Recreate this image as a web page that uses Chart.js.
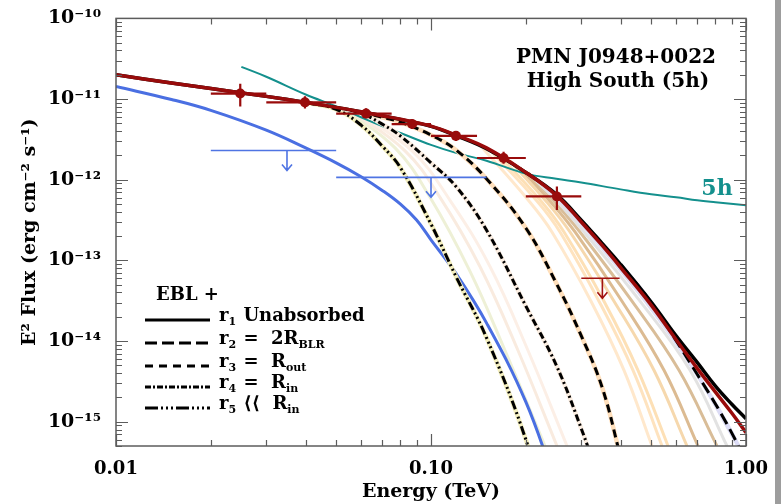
<!DOCTYPE html>
<html>
<head>
<meta charset="utf-8">
<script src="https://cdn.jsdelivr.net/npm/chart.js@4.4.1/dist/chart.umd.min.js"></script>
<style>
  html, body { margin: 0; padding: 0; background: #9d9d9d; }
  #wrap { width: 775px; height: 504px; background: #fff; }
</style>
</head>
<body>
<div id="wrap"><canvas id="sedChart" width="775" height="504"></canvas></div>
<script>
// axis ranges and tick labels
const xMin = 0.01, xMax = 1.0;
const yMin = 5e-16, yMax = 1e-10;
const xMajor = [0.01, 0.1, 1.0];
const xMajorLabels = ["0.01", "0.10", "1.00"];
const yMajorExp = [-15, -14, -13, -12, -11, -10];
const yMajorLabels = ["10⁻¹⁵", "10⁻¹⁴", "10⁻¹³", "10⁻¹²", "10⁻¹¹", "10⁻¹⁰"];

// model curves (energy in TeV, E^2 flux in erg cm^-2 s^-1)
const curveE = [0.01, 0.015, 0.02, 0.03, 0.04, 0.05, 0.06, 0.07, 0.08, 0.1, 0.12, 0.15, 0.2, 0.25, 0.3, 0.35, 0.4, 0.5, 0.6, 0.7, 0.8, 0.9, 1.0];
const fitF = [2.00e-11, 1.58e-11, 1.35e-11, 1.08e-11, 9.08e-12, 7.89e-12, 6.95e-12, 6.21e-12, 5.62e-12, 4.62e-12, 3.58e-12, 2.48e-12, 1.23e-12, 6.40e-13, 2.99e-13, 1.52e-13, 8.16e-14, 2.79e-14, 1.04e-14, 4.59e-15, 2.33e-15, 1.29e-15, 7.33e-16];
const r1F = [2.00e-11, 1.58e-11, 1.35e-11, 1.08e-11, 9.08e-12, 7.89e-12, 6.95e-12, 6.21e-12, 5.60e-12, 4.58e-12, 3.52e-12, 2.42e-12, 1.23e-12, 6.59e-13, 3.16e-13, 1.61e-13, 8.89e-14, 3.04e-14, 1.16e-14, 5.43e-15, 2.76e-15, 1.66e-15, 1.09e-15];

const r2E = [0.4, 0.5, 0.6, 0.7, 0.8, 0.9, 1.0];
const r2F = [8.89e-14, 3.00e-14, 1.01e-14, 3.87e-15, 1.66e-15, 7.33e-16, 3.24e-16];
const r3E = [0.06, 0.07, 0.08, 0.1, 0.12, 0.15, 0.2, 0.25, 0.3, 0.35, 0.4];
const r3F = [6.95e-12, 5.95e-12, 5.17e-12, 3.58e-12, 2.34e-12, 1.03e-12, 2.52e-13, 5.20e-14, 1.16e-14, 2.61e-15, 3.62e-16];
const r4E = [0.05, 0.06, 0.07, 0.08, 0.1, 0.12, 0.15, 0.2, 0.25, 0.3, 0.35];
const r4F = [7.89e-12, 6.67e-12, 4.89e-12, 3.48e-12, 1.62e-12, 8.26e-13, 2.38e-13, 2.72e-14, 5.00e-15, 8.20e-16, 1.47e-16];
const r5E = [0.04, 0.05, 0.06, 0.07, 0.08, 0.1, 0.12, 0.15, 0.2, 0.25];
const r5F = [9.08e-12, 7.46e-12, 4.75e-12, 2.62e-12, 1.41e-12, 2.82e-13, 6.33e-14, 1.10e-14, 6.02e-16, 3.0e-17];

const blueE = [0.01, 0.015, 0.02, 0.03, 0.04, 0.05, 0.06, 0.07, 0.08, 0.09, 0.1, 0.12, 0.15, 0.2, 0.25];
const blueF = [1.43e-11, 9.89e-12, 7.25e-12, 4.12e-12, 2.48e-12, 1.62e-12, 1.09e-12, 7.37e-13, 4.97e-13, 3.16e-13, 1.80e-13, 6.89e-14, 1.68e-14, 1.76e-15, 1.60e-16];

// 5h sensitivity
const sensE = [0.025, 0.03, 0.04, 0.05, 0.06, 0.07, 0.08, 0.1, 0.12, 0.15, 0.2, 0.25, 0.3, 0.4, 0.5, 0.6, 0.7, 0.8, 1.0];
const sensF = [2.51e-11, 1.89e-11, 1.14e-11, 8.11e-12, 5.95e-12, 4.62e-12, 3.79e-12, 2.70e-12, 2.15e-12, 1.72e-12, 1.19e-12, 1.03e-12, 9.24e-13, 7.59e-13, 6.59e-13, 6.05e-13, 5.56e-13, 5.26e-13, 4.83e-13];

// faint intermediate radii
const fanA1E = [0.0533, 0.0769, 0.0993, 0.133, 0.1718, 0.2301];
const fanA1F = [7.46e-12, 2.48e-12, 6.05e-13, 7.29e-14, 7.63e-15, 5.0e-16];
const fanA2E = [0.0553, 0.0827, 0.1068, 0.143, 0.1889, 0.2512];
const fanA2F = [7.25e-12, 2.28e-12, 6.05e-13, 8.39e-14, 7.63e-15, 5.0e-16];
const fanA3E = [0.0574, 0.0871, 0.1149, 0.1539, 0.2032, 0.2703];
const fanA3F = [7.05e-12, 2.28e-12, 5.56e-13, 8.39e-14, 7.63e-15, 5.0e-16];
const fanLowF = [5.26e-13, 2.25e-13, 3.12e-14, 4.34e-15, 5.0e-16];
const fanC1E = [0.1430, 0.2062, 0.2421, 0.3221, 0.4100, 0.5030];
const fanC2E = [0.1539, 0.2186, 0.2568, 0.3414, 0.4379, 0.5413];
const fanC3E = [0.1632, 0.2251, 0.2644, 0.3541, 0.4541, 0.5656];
const fanC4E = [0.1781, 0.2335, 0.2763, 0.3811, 0.5104, 0.6497];
const fanC5E = [0.1917, 0.2404, 0.2866, 0.4040, 0.5493, 0.7040];
const fanC6E = [0.2032, 0.2476, 0.2972, 0.4346, 0.6128, 0.8088];
const fanC7E = [0.2139, 0.2530, 0.3060, 0.4609, 0.6643, 0.8704];
const fanC8E = [0.2301, 0.2587, 0.3151, 0.4780, 0.6839, 0.9432];
const fanCStartF = [2.70e-12, 2.34e-12, 2.09e-12, 1.72e-12, 1.41e-12, 1.23e-12, 1.00e-12, 8.02e-13];

// measured spectrum
const ptE = [0.0248, 0.0398, 0.0622, 0.0871, 0.120, 0.170, 0.251];
const ptF = [1.17e-11, 9.1e-12, 6.6e-12, 4.9e-12, 3.5e-12, 1.86e-12, 6.2e-13];
const ptELo = [0.02, 0.03, 0.05, 0.075, 0.1, 0.14, 0.2];
const ptEHi = [0.03, 0.05, 0.075, 0.1, 0.14, 0.2, 0.3];
const ptFLo = [8.1e-12, 7.66e-12, 5.78e-12, 4.24e-12, 3.02e-12, 1.58e-12, 4.2e-13];
const ptFHi = [1.55e-11, 1.08e-11, 7.67e-12, 5.62e-12, 4.01e-12, 2.22e-12, 8.26e-13];

// upper limits
const ulE = [0.0349, 0.1, 0.35];
const ulF = [2.3e-12, 1.07e-12, 6.0e-14];
const ulELo = [0.02, 0.05, 0.3];
const ulEHi = [0.05, 0.15, 0.397];
const ulColor = ["#4f74e3", "#4f74e3", "#a01212"];

const RED = "#990b0b";
const FONT = '"DejaVu Serif", "Liberation Serif", serif';

function pts(es, fs) {
  return es.map((e, i) => ({ x: e, y: fs[i] }));
}
function fanC(es, i) {
  return pts(es, [fanCStartF[i]].concat(fanLowF));
}
function line(data, color, width, dash) {
  return {
    data: data, borderColor: color, borderWidth: width, borderDash: dash || [],
    pointRadius: 0, fill: false, clip: 0, tension: 0.4
  };
}
function isDecade(v) {
  const l = Math.log10(v);
  return Math.abs(l - Math.round(l)) < 1e-6;
}

const datasets = [
  line(pts(curveE, fitF), RED, 3.5),
  line(pts(curveE, r1F), "#000", 3.5),
  line(pts(r2E, r2F), "#000", 3, [12, 6]),
  line(pts(r3E, r3F), "#000", 3, [8, 5]),
  line(pts(r4E, r4F), "#000", 3, [7, 3, 2, 3]),
  line(pts(r5E, r5F), "#000", 3, [9, 3, 2, 3, 2, 3, 2, 3]),
  line(pts(r2E, r2F), "#dcdcf6", 4),
  line(pts(r3E, r3F), "#ffdfbb", 4.5),
  line(pts(r4E, r4F), "#fbeee2", 4.5),
  line(pts(r5E, r5F), "#f4efbf", 4.5),
  line(pts(sensE, sensF), "#14908d", 2),
  line(pts(blueE, blueF), "#4a6fe2", 3),
  line(fanC(fanC8E, 7), "#dedef3", 3),
  line(fanC(fanC7E, 6), "#e2e2e2", 3),
  line(fanC(fanC6E, 5), "#d9bd98", 3),
  line(fanC(fanC5E, 4), "#dcbb92", 3),
  line(fanC(fanC4E, 3), "#f6d8ad", 3),
  line(fanC(fanC3E, 2), "#fde0b6", 3),
  line(fanC(fanC2E, 1), "#fee3bf", 3),
  line(fanC(fanC1E, 0), "#ffe8cc", 3),
  line(pts(fanA3E, fanA3F), "#fcefe6", 3),
  line(pts(fanA2E, fanA2F), "#f9ebdf", 3),
  line(pts(fanA1E, fanA1F), "#eef0d6", 3)
];

// legend rows: [text, subscript] pieces
const legendRows = [
  { dash: [], parts: [["r", 0], ["1", 1], [" Unabsorbed", 0]] },
  { dash: [12, 5], parts: [["r", 0], ["2", 1], [" =  2R", 0], ["BLR", 1]] },
  { dash: [8, 6], parts: [["r", 0], ["3", 1], [" =  R", 0], ["out", 1]] },
  { dash: [6, 2, 2, 2], parts: [["r", 0], ["4", 1], [" =  R", 0], ["in", 1]] },
  { dash: [13, 3, 2, 3, 2, 3, 2, 3], parts: [["r", 0], ["5", 1], [" ⟨⟨  R", 0], ["in", 1]] }
];
const legendY = [320, 343, 366, 387, 408];

const overlay = {
  id: "overlay",
  afterDatasetsDraw(chart) {
    const ctx = chart.ctx, xs = chart.scales.x, ys = chart.scales.y;
    ctx.save();
    // upper limits
    ulE.forEach((e, i) => {
      const px = xs.getPixelForValue(e), py = ys.getPixelForValue(ulF[i]);
      ctx.strokeStyle = ulColor[i];
      ctx.lineWidth = 1.6;
      ctx.beginPath();
      ctx.moveTo(xs.getPixelForValue(ulELo[i]), py);
      ctx.lineTo(xs.getPixelForValue(ulEHi[i]), py);
      ctx.moveTo(px, py);
      ctx.lineTo(px, py + 20);
      ctx.moveTo(px - 5, py + 14);
      ctx.lineTo(px, py + 20);
      ctx.lineTo(px + 5, py + 14);
      ctx.stroke();
    });
    // data points with error bars
    ctx.strokeStyle = RED;
    ctx.fillStyle = RED;
    ctx.lineWidth = 2.2;
    ptE.forEach((e, i) => {
      const px = xs.getPixelForValue(e), py = ys.getPixelForValue(ptF[i]);
      ctx.beginPath();
      ctx.moveTo(xs.getPixelForValue(ptELo[i]), py);
      ctx.lineTo(xs.getPixelForValue(ptEHi[i]), py);
      ctx.moveTo(px, ys.getPixelForValue(ptFHi[i]));
      ctx.lineTo(px, ys.getPixelForValue(ptFLo[i]));
      ctx.stroke();
      ctx.beginPath();
      ctx.arc(px, py, 5, 0, Math.PI * 2);
      ctx.fill();
    });
    ctx.restore();
  },
  afterDraw(chart) {
    const ctx = chart.ctx, xs = chart.scales.x, ys = chart.scales.y;
    const a = chart.chartArea;
    ctx.save();
    // frame and inward ticks
    ctx.strokeStyle = "#5c5c5c";
    ctx.lineWidth = 1.5;
    ctx.strokeRect(a.left, a.top, a.right - a.left, a.bottom - a.top);
    ctx.lineWidth = 1.2;
    ctx.beginPath();
    for (let ex = -2; ex <= 0; ex++) {
      for (let k = 1; k <= 9; k++) {
        const v = k * Math.pow(10, ex);
        if (v < xMin * 0.999 || v > xMax * 1.001) continue;
        const p = Math.round(xs.getPixelForValue(v)) + 0.5;
        const len = k === 1 ? 12 : 6;
        ctx.moveTo(p, a.bottom); ctx.lineTo(p, a.bottom - len);
        ctx.moveTo(p, a.top); ctx.lineTo(p, a.top + len);
      }
    }
    for (let ex = -16; ex <= -10; ex++) {
      for (let k = 1; k <= 9; k++) {
        const v = k * Math.pow(10, ex);
        if (v < yMin * 0.999 || v > yMax * 1.001) continue;
        const p = Math.round(ys.getPixelForValue(v)) + 0.5;
        const len = k === 1 ? 12 : 6;
        ctx.moveTo(a.left, p); ctx.lineTo(a.left + len, p);
        ctx.moveTo(a.right, p); ctx.lineTo(a.right - len, p);
      }
    }
    ctx.stroke();

    // title block
    ctx.fillStyle = "#000";
    ctx.textAlign = "center";
    ctx.textBaseline = "alphabetic";
    ctx.font = "bold 20px " + FONT;
    ctx.fillText("PMN J0948+0022", 616, 63);
    ctx.fillText("High South (5h)", 618, 87);

    // 5h label
    ctx.fillStyle = "#14908d";
    ctx.font = "bold 22px " + FONT;
    ctx.fillText("5h", 717, 195);

    // legend
    ctx.fillStyle = "#000";
    ctx.textAlign = "left";
    ctx.font = "bold 18px " + FONT;
    ctx.fillText("EBL +", 156, 300);
    ctx.strokeStyle = "#000";
    ctx.lineWidth = 3;
    legendRows.forEach((row, i) => {
      const y = legendY[i];
      ctx.setLineDash(row.dash);
      ctx.beginPath();
      ctx.moveTo(145, y);
      ctx.lineTo(210, y);
      ctx.stroke();
      let x = 219;
      row.parts.forEach(([t, sub]) => {
        ctx.font = sub ? "bold 11px " + FONT : "bold 18px " + FONT;
        ctx.fillText(t, x, sub ? y + 5 : y + 1);
        x += ctx.measureText(t).width + (sub ? 1 : 0);
      });
    });
    ctx.setLineDash([]);
    ctx.restore();
  }
};

new Chart(document.getElementById("sedChart"), {
  type: "line",
  data: { datasets: datasets },
  options: {
    responsive: false,
    animation: false,
    devicePixelRatio: 1,
    layout: { padding: { top: 14, right: 29, bottom: 0, left: 0 } },
    plugins: { legend: { display: false }, tooltip: { enabled: false } },
    scales: {
      x: {
        type: "logarithmic",
        min: xMin,
        max: xMax,
        grid: { display: false },
        border: { display: false },
        ticks: {
          autoSkip: false,
          maxRotation: 0,
          padding: 5,
          color: "#000",
          font: { family: FONT, size: 18, weight: "bold" },
          callback: function (value) {
            if (!isDecade(value)) return "";
            const i = xMajor.findIndex(m => Math.abs(Math.log10(m) - Math.log10(value)) < 1e-6);
            return i < 0 ? "" : xMajorLabels[i];
          }
        },
        title: {
          display: true,
          text: "Energy (TeV)",
          color: "#000",
          font: { family: FONT, size: 19, weight: "bold" },
          padding: { top: 0, bottom: 1 }
        },
        afterFit: function (scale) { scale.height = 58; }
      },
      y: {
        type: "logarithmic",
        min: yMin,
        max: yMax,
        grid: { display: false },
        border: { display: false },
        ticks: {
          autoSkip: false,
          padding: 7,
          color: "#000",
          font: { family: FONT, size: 19, weight: "bold" },
          callback: function (value) {
            if (!isDecade(value)) return "";
            const i = yMajorExp.indexOf(Math.round(Math.log10(value)));
            return i < 0 ? "" : yMajorLabels[i];
          }
        },
        title: {
          display: true,
          text: "E² Flux (erg cm⁻² s⁻¹)",
          color: "#000",
          font: { family: FONT, size: 19, weight: "bold" },
          padding: { top: 19, bottom: 0 }
        },
        afterFit: function (scale) { scale.width = 116; }
      }
    }
  },
  plugins: [overlay]
});
</script>
</body>
</html>
